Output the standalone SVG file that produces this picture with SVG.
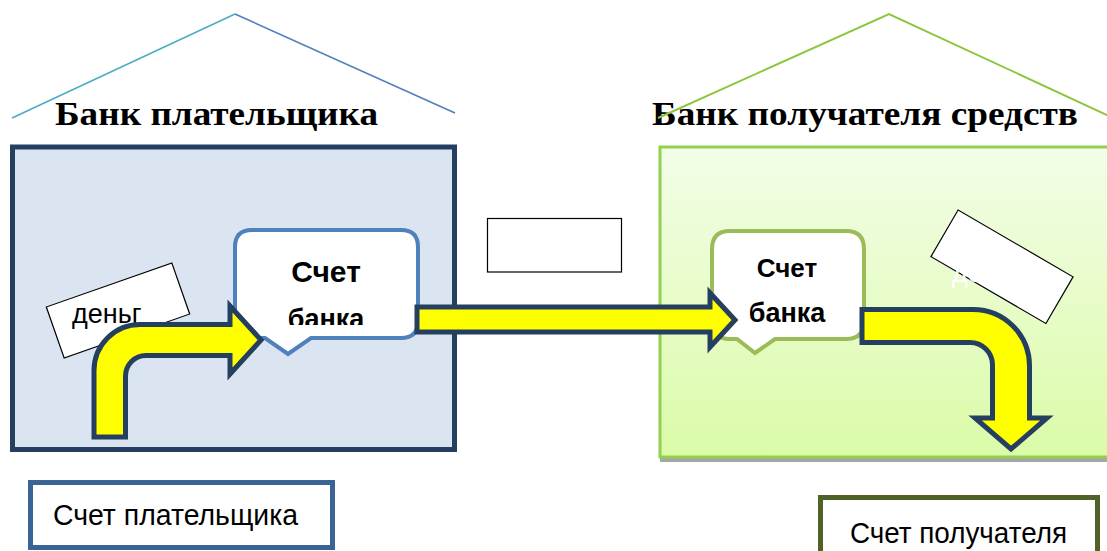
<svg xmlns="http://www.w3.org/2000/svg" width="1107" height="551" viewBox="0 0 1107 551">
<style>
.title{font-family:"Liberation Serif","Times New Roman",serif;font-weight:bold;font-size:34px;fill:#000}
.sans{font-family:"Liberation Sans",Arial,sans-serif;fill:#000}
.bold{font-weight:bold}
.arrow{fill:#FFFF00;stroke:#243F60;stroke-width:5;stroke-linejoin:miter}
.label{fill:#fff;stroke:#000;stroke-width:1.2}
</style>
<defs>
<linearGradient id="gr" x1="0" y1="0" x2="0" y2="1">
<stop offset="0" stop-color="#F3FDE8"/>
<stop offset="1" stop-color="#DBFBA8"/>
</linearGradient>
<clipPath id="clipL"><rect x="236" y="232" width="180" height="93"/></clipPath>
</defs>

<g id="payer-bank">
<polyline points="12,118 235,14" fill="none" stroke="#4BACC6" stroke-width="1.6"/>
<polyline points="235,14 455,113" fill="none" stroke="#4F81BD" stroke-width="1.6"/>
<rect x="12.5" y="147" width="442" height="302.5" fill="#DBE5F1" stroke="#243F60" stroke-width="5"/>
<text class="title" x="55" y="125" textLength="323" lengthAdjust="spacingAndGlyphs">Банк плательщика</text>
</g>

<g id="payee-bank">
<rect x="660" y="457" width="460" height="5" fill="#A6A6A6"/>
<rect x="660" y="147" width="460" height="310" fill="url(#gr)" stroke="#92D050" stroke-width="3"/>
<text class="title" x="652" y="125" textLength="426" lengthAdjust="spacingAndGlyphs">Банк получателя средств</text>
<polyline points="658,118 889,14 1107,115" fill="none" stroke="#8CC63F" stroke-width="2"/>
</g>

<g id="middle-label">
<rect x="487.5" y="218.5" width="134" height="53.5" class="label" stroke-width="1.5"/>
</g>

<g id="payer-money-label">
<rect x="-66.5" y="-27" width="133" height="54" class="label" transform="translate(118,310.5) rotate(-19.3)"/>
<text class="sans" x="72" y="323" font-size="27">деньг</text>
</g>

<g id="payer-bank-account">
<path d="M252,230 L401,230 Q418,230 418,247 L418,321 Q418,338 401,338 L311,338 L288,354 L265,338 L252,338 Q235,338 235,321 L235,247 Q235,230 252,230 Z" fill="#fff" stroke="#4F81BD" stroke-width="4"/>
<text class="sans bold" x="326" y="282" font-size="30" text-anchor="middle">Счет</text>
<text class="sans bold" x="326" y="328" font-size="27" text-anchor="middle" clip-path="url(#clipL)">банка</text>
</g>

<g id="payee-bank-account">
<path d="M730,231 L846,231 Q864,231 864,249 L864,321 Q864,339 846,339 L775,339 L755,353 L737,339 L730,339 Q712,339 712,321 L712,249 Q712,231 730,231 Z" fill="#fff" stroke="#9BBB59" stroke-width="4"/>
<text class="sans bold" x="787" y="277" font-size="26" text-anchor="middle">Счет</text>
<text class="sans bold" x="787" y="322" font-size="27" text-anchor="middle">банка</text>
</g>

<g id="payee-money-label">
<rect x="-66.5" y="-27" width="133" height="54" class="label" transform="translate(1002,266.75) rotate(30.2)"/>
<text class="sans" x="952" y="282" font-size="27" style="fill:#fff">деньги</text>
</g>

<g id="connectors">
<path class="arrow" d="M94,437 L94,370.5 A46,46 0 0 1 140,324.5 L230,324.5 L230,306 L261,340 L230,374 L230,355.5 L146,355.5 A20.5,20.5 0 0 0 125.5,376 L125.5,437 Z"/>
<path class="arrow" d="M417,307 L710,307 L710,293 L735,320 L710,347 L710,332 L417,332 Z"/>
<path class="arrow" d="M862,309.5 L973,309.5 A56.5,56.5 0 0 1 1029.5,366 L1029.5,418 L1047,418 L1011,449 L975,418 L992.5,418 L992.5,365 A22.5,22.5 0 0 0 970,342.5 L862,342.5 Z"/>
</g>

<g id="payer-account">
<rect x="30.5" y="482.5" width="302" height="65" fill="#fff" stroke="#3A6496" stroke-width="5"/>
<text class="sans" x="53" y="525" font-size="30" textLength="245" lengthAdjust="spacingAndGlyphs">Счет плательщика</text>
</g>

<g id="payee-account">
<rect x="820.5" y="497.5" width="277" height="70" fill="#fff" stroke="#4F6228" stroke-width="5"/>
<text class="sans" x="850" y="543" font-size="30" textLength="217" lengthAdjust="spacingAndGlyphs">Счет получателя</text>
</g>
</svg>
